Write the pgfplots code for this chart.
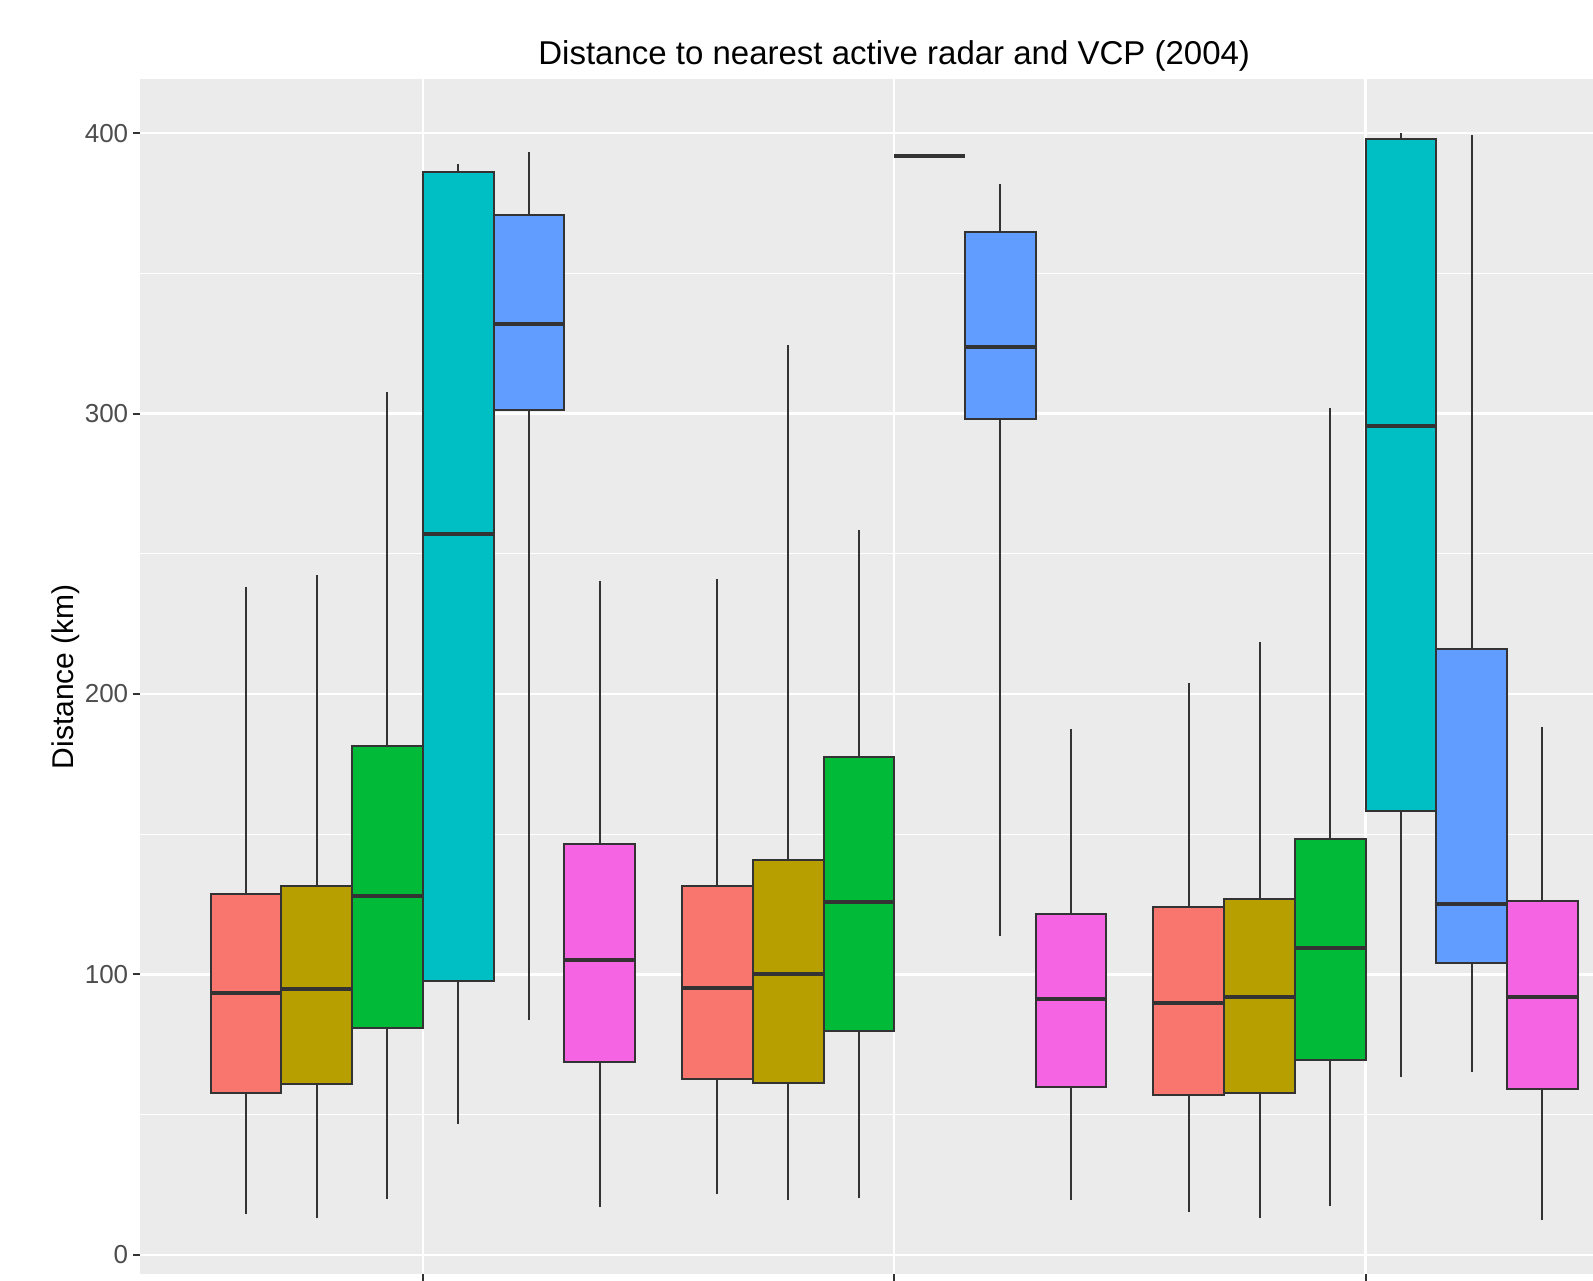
\documentclass[border=0pt]{standalone}
\usepackage{fontspec}
\setmainfont{Liberation Sans}
\usepackage{pgfplots}
\pgfplotsset{compat=1.18}
\definecolor{ggbg}{HTML}{EBEBEB}
\definecolor{ggA}{HTML}{F8766D}
\definecolor{ggB}{HTML}{B79F00}
\definecolor{ggC}{HTML}{00BA38}
\definecolor{ggD}{HTML}{00BFC4}
\definecolor{ggE}{HTML}{619CFF}
\definecolor{ggF}{HTML}{F564E3}
\definecolor{ggdark}{HTML}{333333}
\definecolor{ggtext}{HTML}{4D4D4D}
% #1 colour, #2 left edge, #3 centre, #4 right edge,
% #5 lower whisker, #6 lower quartile, #7 median, #8 upper quartile, #9 upper whisker
\newcommand{\gbox}[9]{%
  \addplot[ggdark, line width=1pt, forget plot] coordinates {(#3,#5) (#3,#6)};
  \addplot[ggdark, line width=1pt, forget plot] coordinates {(#3,#8) (#3,#9)};
  \addplot[draw=ggdark, fill=#1, line width=1pt, forget plot] coordinates {(#2,#6) (#4,#6) (#4,#8) (#2,#8)} --cycle;
  \addplot[ggdark, line width=2pt, forget plot] coordinates {(#2,#7) (#4,#7)};
}
\begin{document}
\begin{tikzpicture}
\begin{axis}[
  at={(70pt,-637pt)}, anchor=south west,
  scale only axis, width=754.2pt, height=597.25pt,
  xmin=0.4, xmax=3.6, ymin=-6.8, ymax=419.1,
  axis line style={draw=none},
  axis background/.style={fill=ggbg},
  xtick={1,2,3}, xticklabels={,,},
  ytick={0,100,200,300,400},
  minor ytick={50,150,250,350},
  xmajorgrids, ymajorgrids, yminorgrids,
  major grid style={white, line width=1.2pt},
  minor grid style={white, line width=0.6pt},
  tick align=outside, xtick pos=bottom, ytick pos=left,
  major tick length=3.5pt,
  major tick style={ggdark, line width=1pt},
  minor tick style={draw=none},
  /pgf/number format/assume math mode=true,
  yticklabel style={font=\fontsize{13}{15}\selectfont, text=ggtext, inner sep=0pt, xshift=-2.2pt},
  title={Distance to nearest active radar and VCP (2004)},
  title style={at={(0.5,1)}, anchor=center, yshift=5.8pt, inner sep=0pt, font=\fontsize{16.5}{19}\selectfont},
  ylabel={Distance (km)},
  ylabel style={at={(axis description cs:-0.0491,0.5)}, anchor=center, inner sep=0pt, font=\fontsize{15}{18}\selectfont},
]
% category 1
\gbox{ggA}{0.55}{0.625}{0.70}{14.5}{57.6}{93.5}{128.6}{238}
\gbox{ggB}{0.70}{0.775}{0.85}{13.0}{60.9}{94.9}{131.5}{242.4}
\gbox{ggC}{0.85}{0.925}{1.00}{19.9}{80.8}{127.9}{181.5}{307.6}
\gbox{ggD}{1.00}{1.075}{1.15}{46.7}{97.5}{256.9}{386.2}{388.8}
\gbox{ggE}{1.15}{1.225}{1.30}{83.7}{301.4}{331.9}{370.7}{393.1}
\gbox{ggF}{1.30}{1.375}{1.45}{17.0}{68.8}{105.1}{146.4}{240.2}
% category 2
\gbox{ggA}{1.55}{1.625}{1.70}{21.7}{62.7}{95.3}{131.5}{240.9}
\gbox{ggB}{1.70}{1.775}{1.85}{19.6}{61.2}{100.0}{140.9}{324.3}
\gbox{ggC}{1.85}{1.925}{2.00}{20.3}{79.7}{125.7}{177.5}{258.3}
\gbox{ggD}{2.00}{2.075}{2.15}{392}{392}{392}{392}{392}
\gbox{ggE}{2.15}{2.225}{2.30}{113.8}{298.2}{323.6}{364.9}{381.9}
\gbox{ggF}{2.30}{2.375}{2.45}{19.6}{59.8}{91.3}{121.7}{187.7}
% category 3
\gbox{ggA}{2.55}{2.625}{2.70}{15.2}{56.9}{89.9}{123.9}{204.0}
\gbox{ggB}{2.70}{2.775}{2.85}{13.0}{57.6}{92.0}{126.8}{218.5}
\gbox{ggC}{2.85}{2.925}{3.00}{17.4}{69.6}{109.4}{148.2}{301.8}
\gbox{ggD}{3.00}{3.075}{3.15}{63.4}{158.3}{295.7}{397.8}{400}
\gbox{ggE}{3.15}{3.225}{3.30}{65.2}{104.0}{125.0}{215.9}{399.3}
\gbox{ggF}{3.30}{3.375}{3.45}{12.3}{59.1}{92.0}{126.1}{188.4}
\end{axis}
\pgfresetboundingbox
\useasboundingbox (0,0) rectangle (796.5pt,-640pt);
\end{tikzpicture}
\end{document}
